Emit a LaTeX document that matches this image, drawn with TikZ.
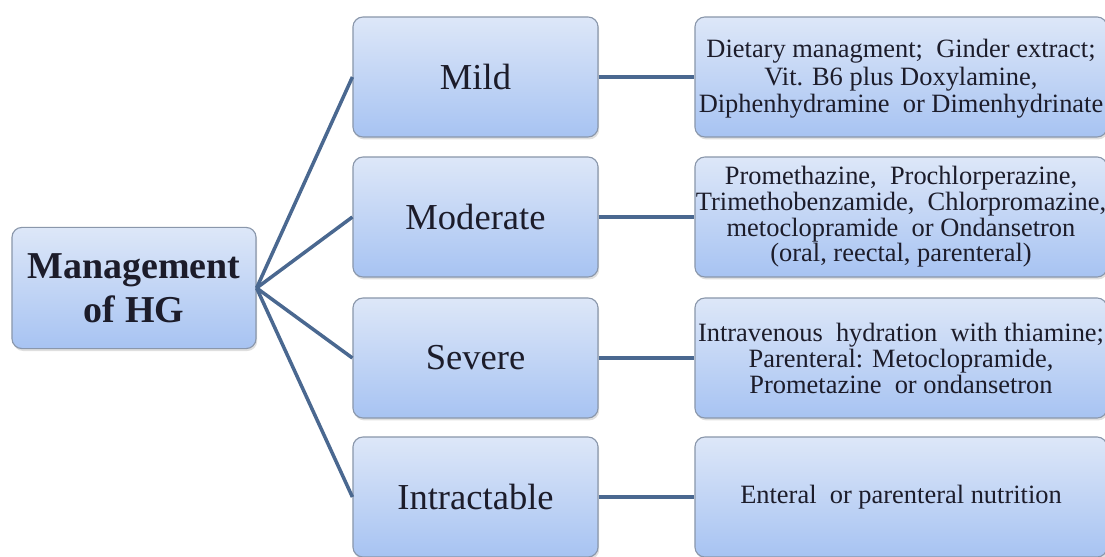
\documentclass[tikz,border=0pt]{standalone}
\usepackage{fontspec}
\setmainfont{Liberation Serif}
\usetikzlibrary{shadows}
\definecolor{boxtop}{HTML}{DDE7F8}
\definecolor{boxbottom}{HTML}{A7C3F2}
\definecolor{boxborder}{HTML}{8A97AB}
\definecolor{linkblue}{HTML}{4A6890}
\definecolor{inkdark}{HTML}{1C1C2A}

\begin{document}
\begin{tikzpicture}[x=0.025cm, y=-0.025cm,
  hgbox/.style={draw=boxborder, line width=0.8pt, rounded corners=0.25cm,
    top color=boxtop, bottom color=boxbottom, text=inkdark, align=center, inner sep=0pt,
    drop shadow={opacity=0.25, shadow xshift=0.03cm, shadow yshift=-0.06cm}},
  gradebox/.style={hgbox, minimum width=6.125cm, minimum height=3cm, font=\fontsize{26}{30}\selectfont},
  drugbox/.style={hgbox, minimum width=10.3cm, minimum height=3cm, font=\fontsize{18.8}{19.6}\selectfont},
  link/.style={draw=linkblue, line width=2.5pt}]

% Fix the page size
\useasboundingbox (0,0) rectangle (1105,557);

% Draw the root block
\node[hgbox, minimum width=6.1cm, minimum height=3.03cm, font=\fontsize{27}{31}\selectfont\bfseries]
  (root) at (134,288) {Management\\of HG};

% Draw the grade blocks
\node[gradebox] (mild) at (475.5,77) {Mild};
\node[gradebox] (moderate) at (475.5,217) {Moderate};
\node[gradebox] (severe) at (475.5,358) {Severe};
\node[gradebox] (intractable) at (475.5,497) {Intractable};

% Draw the treatment blocks
\node[drugbox] (mildrx) at (901,77)
  {\rule{0pt}{0.55cm}Dietary managment; \ Ginder extract;\\Vit. B6 plus Doxylamine,\\Diphenhydramine \ or Dimenhydrinate};
\node[drugbox, font=\fontsize{18.8}{18.2}\selectfont] (moderaterx) at (901,217)
  {Promethazine, \ Prochlorperazine,\\\makebox[9cm]{Trimethobenzamide, \ Chlorpromazine,}\\metoclopramide \ or Ondansetron\\(oral, reectal, parenteral)};
\node[drugbox, font=\fontsize{18.8}{18.5}\selectfont] (severerx) at (901,358)
  {Intravenous \ hydration \ with thiamine;\\Parenteral: Metoclopramide,\\Prometazine \ or ondansetron};
\node[drugbox] (intractablerx) at (901,497)
  {Enteral \ or parenteral nutrition};

% Links from the root to the grades
\foreach \g in {mild,moderate,severe,intractable}
  \draw[link] (root.east) -- (\g.west);

% Links from the grades to the treatments
\foreach \g in {mild,moderate,severe,intractable}
  \draw[link] (\g.east) -- (\g rx.west);

\end{tikzpicture}
\end{document}
